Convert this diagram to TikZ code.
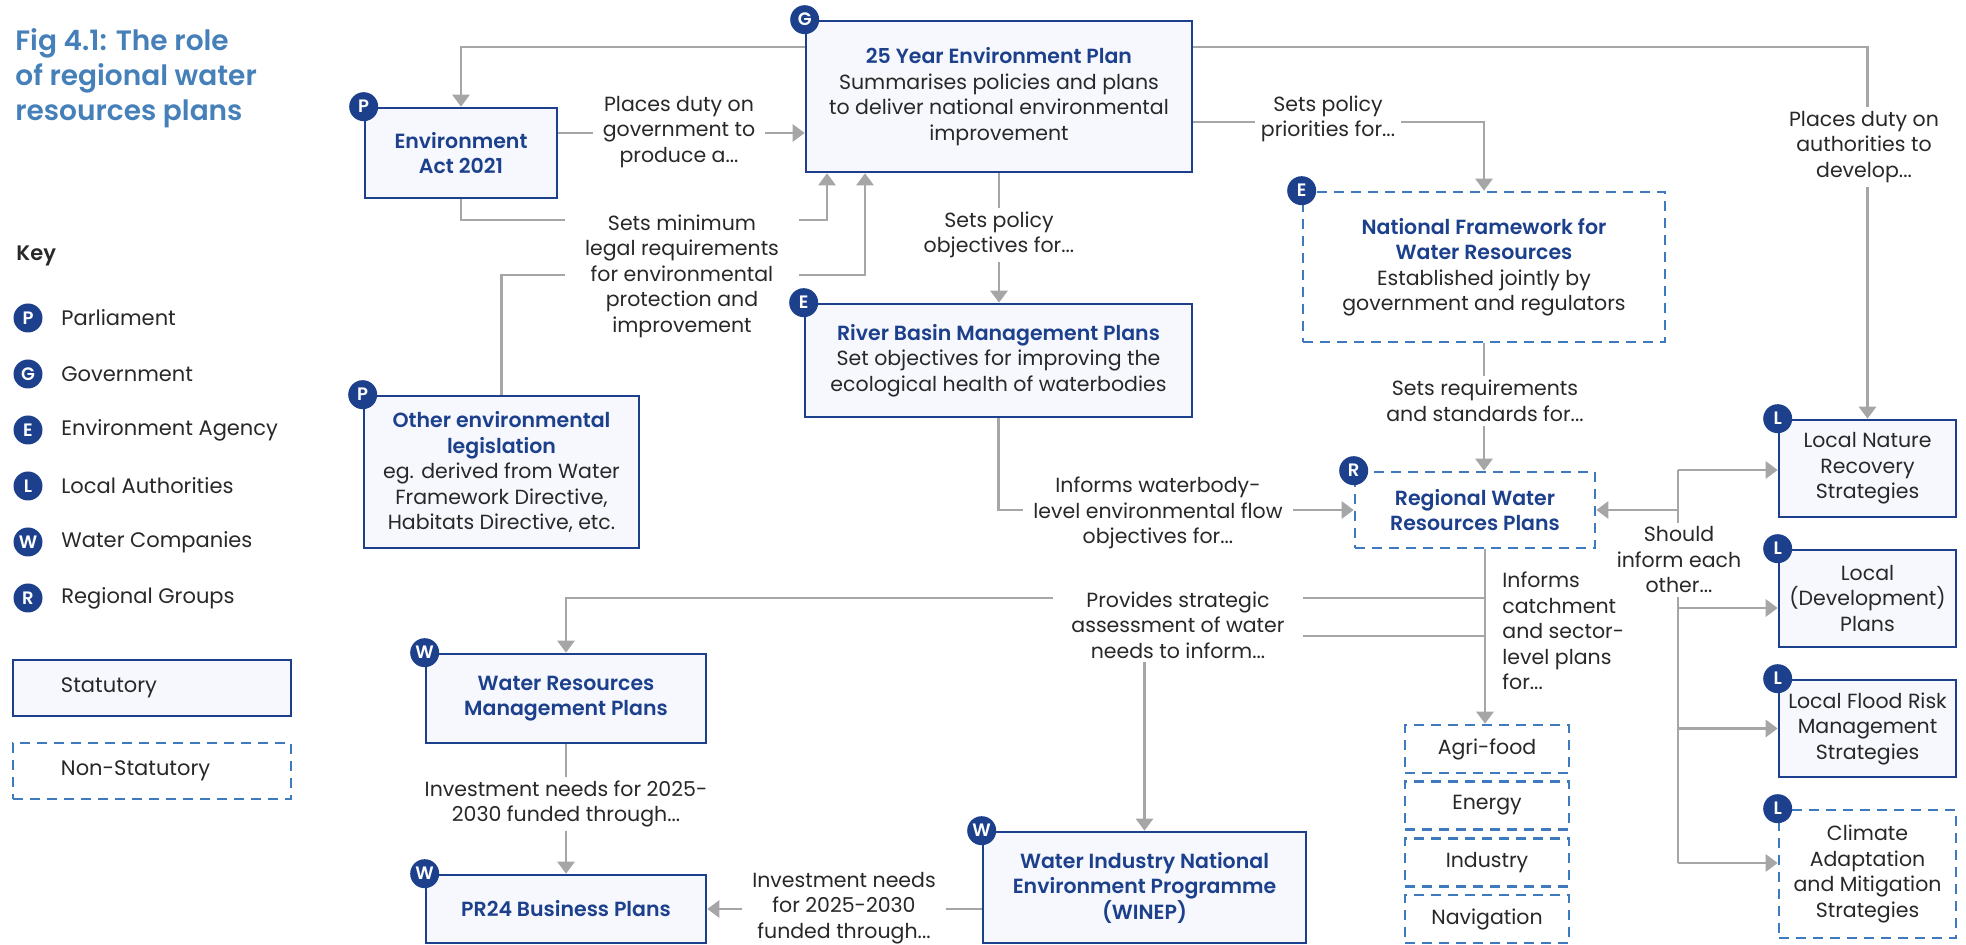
\documentclass[tikz,border=0pt]{standalone}
\usepackage{fontspec}
\setmainfont{Poppins}[BoldFont={Poppins SemiBold}]
\usetikzlibrary{arrows.meta}
\definecolor{navy}{RGB}{28,64,140}
\definecolor{dashblue}{RGB}{62,122,190}
\definecolor{titleblue}{RGB}{70,128,185}
\definecolor{boxfill}{RGB}{246,248,253}
\definecolor{linegray}{RGB}{166,166,166}
\definecolor{ink}{RGB}{40,40,40}
\newcommand{\boxfont}{\fontsize{10.25pt}{12.75pt}\selectfont}
\newcommand{\keyfont}{\fontsize{10.5pt}{12.5pt}\selectfont}
\newcommand{\boxtitle}[1]{{\bfseries\color{navy}#1}}
\tikzset{
  statbox/.style={draw=navy, line width=1.3pt, fill=boxfill, align=center, text=ink, font=\boxfont, inner sep=2pt},
  nonstat/.style={draw=dashblue, line width=1.3pt, dash pattern=on 5pt off 3.5pt, fill=white, align=center, text=ink, font=\boxfont, inner sep=2pt},
  badge/.style={circle, fill=navy, text=white, font=\fontsize{9pt}{9pt}\selectfont\bfseries, inner sep=0pt, minimum size=14.5pt},
  keytext/.style={anchor=west, inner sep=0pt, text=ink, font=\keyfont},
  conn/.style={draw=linegray, line width=1.4pt},
  arr/.style={conn, -{Triangle[length=6pt,width=8.5pt]}},
  note/.style={fill=white, align=center, text=ink, font=\boxfont, inner xsep=5pt, inner ysep=2pt}
}
\begin{document}
\begin{tikzpicture}[x=0.5pt,y=-0.5pt]
      \useasboundingbox (0,0) rectangle (1966,945);
      \node[anchor=north west, inner sep=0pt, align=left, text=titleblue,
        font=\fontsize{14pt}{17.5pt}\selectfont\bfseries] (figtitle) at (15,28)
        {Fig 4.1: The role\\of regional water\\resources plans};
      \node[keytext, font=\keyfont\bfseries] (keyhead) at (16,256) {Key};
      \path
        (28,318) node[badge] (keyP) {P}
        (28,374) node[badge] (keyG) {G}
        (28,430) node[badge] (keyE) {E}
        (28,486) node[badge] (keyL) {L}
        (28,542) node[badge] (keyW) {W}
        (28,598) node[badge] (keyR) {R};
      \path
        (61,318) node[keytext] (keyPt) {Parliament}
        (61,374) node[keytext] (keyGt) {Government}
        (61,430) node[keytext] (keyEt) {Environment Agency}
        (61,486) node[keytext] (keyLt) {Local Authorities}
        (61,542) node[keytext] (keyWt) {Water Companies}
        (61,598) node[keytext] (keyRt) {Regional Groups};
      \node[statbox, font=\keyfont, align=left, text width=91pt, inner xsep=24pt, minimum height=28pt] (keystat) at (152,688) {Statutory};
      \node[nonstat, font=\keyfont, align=left, text width=91pt, inner xsep=24pt, minimum height=28pt] (keynon) at (152,771) {Non-Statutory};
      \path
        (461,153) node[statbox, minimum width=96pt, minimum height=45pt] (envact)
          {\boxtitle{Environment}\\\boxtitle{Act 2021}}
        (999,96.5) node[statbox, minimum width=193pt, minimum height=75.5pt] (yep)
          {\boxtitle{25 Year Environment Plan}\\Summarises policies and plans\\to deliver national environmental\\improvement}
        (501.5,472) node[statbox, minimum width=137.5pt, minimum height=76pt] (otherleg)
          {\boxtitle{Other environmental}\\\boxtitle{legislation}\\eg. derived from Water\\Framework Directive,\\Habitats Directive, etc.}
        (998.5,360.5) node[statbox, minimum width=193.5pt, minimum height=56.5pt] (rbmp)
          {\boxtitle{River Basin Management Plans}\\Set objectives for improving the\\ecological health of waterbodies}
        (1484,267) node[nonstat, minimum width=181pt, minimum height=75pt] (nfwr)
          {\boxtitle{National Framework for}\\\boxtitle{Water Resources}\\Established jointly by\\government and regulators}
        (1475,510) node[nonstat, minimum width=120pt, minimum height=38pt] (rwrp)
          {\boxtitle{Regional Water}\\\boxtitle{Resources Plans}}
        (566,698.5) node[statbox, minimum width=140pt, minimum height=44.5pt] (wrmp)
          {\boxtitle{Water Resources}\\\boxtitle{Management Plans}}
        (566,909) node[statbox, minimum width=140pt, minimum height=34pt] (pr24)
          {\boxtitle{PR24 Business Plans}}
        (1144.5,887.5) node[statbox, minimum width=161.5pt, minimum height=55.5pt] (winep)
          {\boxtitle{Water Industry National}\\\boxtitle{Environment Programme}\\\boxtitle{(WINEP)}};
      \path
        (1487,749) node[nonstat, minimum width=82pt, minimum height=24pt] (agri) {Agri-food}
        (1487,805.5) node[nonstat, minimum width=82pt, minimum height=24pt] (energy) {Energy}
        (1487,862.5) node[nonstat, minimum width=82pt, minimum height=24pt] (industry) {Industry}
        (1487,919) node[nonstat, minimum width=82pt, minimum height=24pt] (navigation) {Navigation};
      \path
        (1867.5,468.5) node[statbox, minimum width=88.5pt, minimum height=48.5pt] (lnrs) {Local Nature\\Recovery\\Strategies}
        (1867.5,598.5) node[statbox, minimum width=88.5pt, minimum height=48.5pt] (ldp) {Local\\(Development)\\Plans}
        (1867.5,728.5) node[statbox, minimum width=88.5pt, minimum height=48.5pt] (lfrm) {Local Flood Risk\\Management\\Strategies}
        (1867.5,874) node[nonstat, minimum width=88.5pt, minimum height=64pt] (camas) {Climate\\Adaptation\\and Mitigation\\Strategies};
      \coordinate (trunk) at (1485,0);
      \coordinate (spine) at (1678,0);
      \begin{scope}[arr]
        \draw (yep.west |- 0,47) -| (envact.north);
        \draw (yep.east |- 0,47) -| (lnrs.north);
        \draw (envact.east |- 0,133) -- (yep.west |- 0,133);
        \draw (envact.south) |- (827,220) -- (yep.south -| 827,0);
        \draw (otherleg.north) |- (865,275) -- (yep.south -| 865,0);
        \draw (yep.south) -- (rbmp.north -| yep.south);
        \draw (yep.east |- 0,122) -| (nfwr.north);
        \draw (nfwr.south) -- (rwrp.north -| nfwr.south);
        \draw (rbmp.south) |- (rwrp.west);
        \draw (rwrp.south -| trunk) -- (agri.north -| trunk);
        \draw (trunk |- 0,598) -| (wrmp.north);
        \draw (trunk |- 0,636) -| (winep.north);
        \draw (wrmp.south) -- (pr24.north);
        \draw (winep.west |- pr24.east) -- (pr24.east);
        \draw[-] (spine |- 0,470) -- (spine |- 0,863);
        \draw (spine |- rwrp.east) -- (rwrp.east);
        \draw (spine |- 0,470) -- (lnrs.west |- 0,470);
        \draw (spine |- 0,608) -- (ldp.west |- 0,608);
        \draw (spine |- lfrm.west) -- (lfrm.west);
        \draw (spine |- 0,863) -- (camas.west |- 0,863);
      \end{scope}
      \path
        (679,132) node[note] (placesduty) {Places duty on\\government to\\produce a...}
        (1864,147) node[note] (localduty) {Places duty on\\authorities to\\develop...}
        (682,276) node[note, inner xsep=10pt] (minreq) {Sets minimum\\legal requirements\\for environmental\\protection and\\improvement}
        (999,235) node[note] (objectives) {Sets policy\\objectives for...}
        (1328,119) node[note, inner xsep=3pt] (priorities) {Sets policy\\priorities for...}
        (1485,401) node[note] (standards) {Sets requirements\\and standards for...}
        (1158,513) node[note] (flowobj) {Informs waterbody-\\level environmental flow\\objectives for...}
        (1178,625) node[note, inner xsep=9pt] (strategic) {Provides strategic\\assessment of water\\needs to inform...}
        (1679,560) node[note] (eachother) {Should\\inform each\\other...}
        (566,804) node[note] (wrmpinvest) {Investment needs for 2025-\\2030 funded through...}
        (844,908) node[note] (winepinvest) {Investment needs\\for 2025-2030\\funded through...};
      \node[note, align=left, anchor=west, inner sep=0pt, fill=none] (catchment) at (1502,631)
        {Informs\\catchment\\and sector-\\level plans\\for...};
      \node[badge] (envactB) at (envact.north west) {P};
      \node[badge] (yepB) at (yep.north west) {G};
      \node[badge] (otherlegB) at (otherleg.north west) {P};
      \node[badge] (rbmpB) at (rbmp.north west) {E};
      \node[badge] (nfwrB) at (nfwr.north west) {E};
      \node[badge] (rwrpB) at (rwrp.north west) {R};
      \node[badge] (wrmpB) at (wrmp.north west) {W};
      \node[badge] (pr24B) at (pr24.north west) {W};
      \node[badge] (winepB) at (winep.north west) {W};
      \node[badge] (lnrsB) at (lnrs.north west) {L};
      \node[badge] (ldpB) at (ldp.north west) {L};
      \node[badge] (lfrmB) at (lfrm.north west) {L};
      \node[badge] (camasB) at (camas.north west) {L};
\end{tikzpicture}
\end{document}
